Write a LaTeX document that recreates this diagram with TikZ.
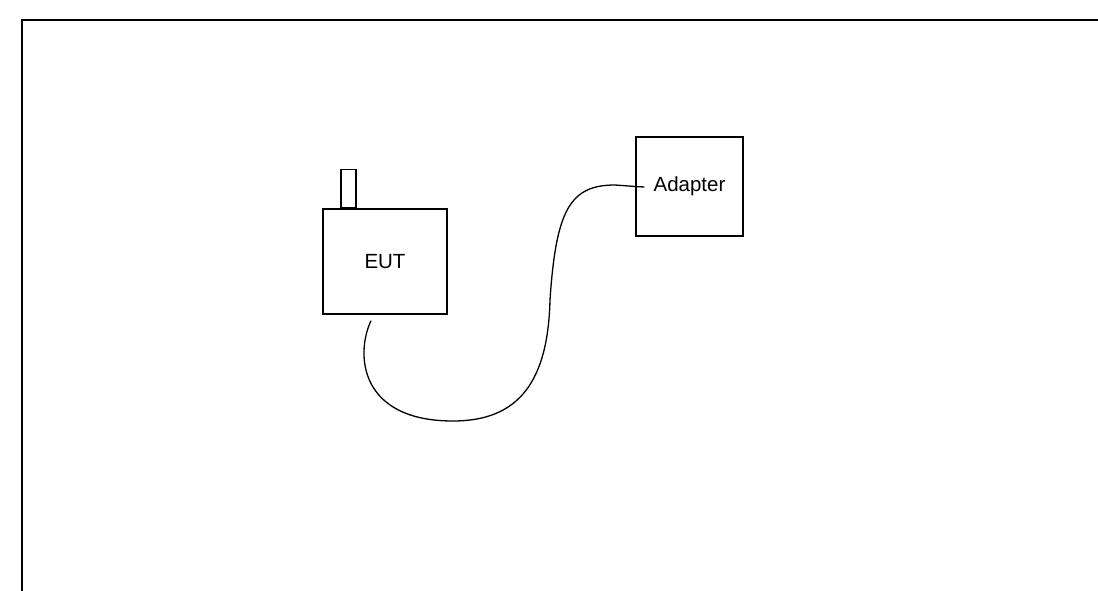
\documentclass[tikz,border=0pt]{standalone}
\usepackage{fontspec}
\setmainfont{Liberation Sans}
\usetikzlibrary{positioning}
\tikzset{
	unitbox/.style={draw, line width=1.3pt, inner sep=0pt, font=\fontsize{20.5}{24}\selectfont},
	cable/.style={line width=1.3pt}
}
\begin{document}
\begin{tikzpicture}[x=1pt, y=-1pt]
		\useasboundingbox (0, 0) rectangle (1098, 591);
		
		% Frame
		\draw[line width=2pt] (22, 591) -- (22, 20) -- (1098, 20);
		
		% EUT with antenna
		\node[unitbox, minimum width=124pt, minimum height=105pt] (eut) at (385, 261.5) {EUT};
		\node[unitbox, minimum width=15pt, minimum height=38pt, anchor=south west] (antenna) at ([xshift=18pt]eut.north west) {};
		
		% Adapter
		\node[unitbox, minimum width=107pt, minimum height=99pt] (adapter) at (689.5, 186.5) {Adapter};
		
		% Cable
		\coordinate (plug) at ([xshift=-14pt, yshift=-6pt]eut.south);
		\coordinate (socket) at ([xshift=9pt, yshift=-0.5pt]adapter.west);
		\draw[cable] (plug) .. controls (355, 355) and (360, 421) .. (453, 421)
			.. controls (520, 421) and (548, 380) .. (550, 300)
			.. controls (556, 210) and (570, 185) .. (615, 185)
			-- (adapter.west) -- (socket);
	\end{tikzpicture}
\end{document}
